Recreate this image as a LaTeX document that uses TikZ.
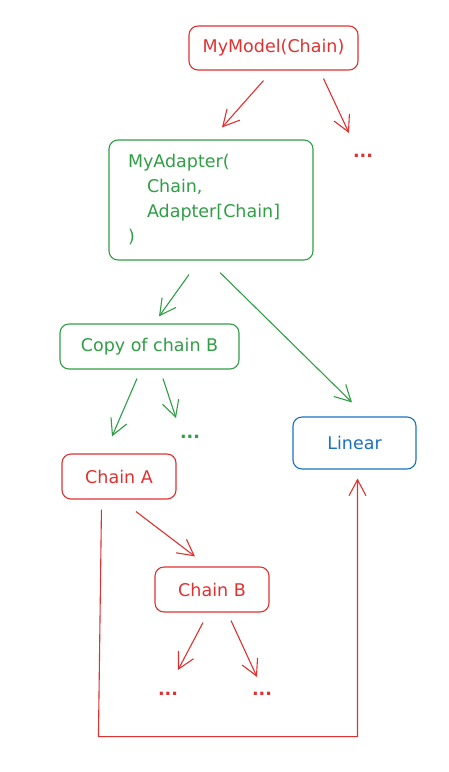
\documentclass[tikz,border=0pt]{standalone}
\usepackage{fontspec}
\setmainfont{DejaVu Sans}
\usetikzlibrary{arrows.meta,calc}
\definecolor{exred}{HTML}{E03131}
\definecolor{exgreen}{HTML}{2F9E44}
\definecolor{exblue}{HTML}{1971C2}
\tikzset{
  box/.style={draw, rounded corners=9pt, line width=1.1pt, inner sep=0pt, font=\fontsize{17.5}{25}\selectfont},
  redbox/.style={box, draw=exred, text=exred},
  greenbox/.style={box, draw=exgreen, text=exgreen},
  bluebox/.style={box, draw=exblue, text=exblue},
  dots/.style={inner sep=0pt, font=\fontsize{17.5}{21}\selectfont\bfseries},
  conn/.style={line width=1.1pt, -{Straight Barb[length=16pt,width=17pt,line width=1.1pt]}},
  redconn/.style={conn, draw=exred},
  greenconn/.style={conn, draw=exgreen},
}
\begin{document}
\begin{tikzpicture}[x=1pt,y=-1pt]
\useasboundingbox (0,0) rectangle (449,772);
% nodes
\node[redbox, minimum width=169pt, minimum height=44pt] (mm) at (273.5,48) {MyModel(Chain)};
\node[dots, text=exred] (d1) at (363,156) {...};
\node[greenbox, minimum width=204pt, minimum height=120pt, align=left, text width=166pt] (ad) at (211,200)
  {MyAdapter(\\\hspace*{19pt}Chain,\\\hspace*{19pt}Adapter[Chain]\\)};
\node[greenbox, minimum width=179pt, minimum height=45pt] (cp) at (149.5,346.5) {Copy of chain B};
\node[dots, text=exgreen] (d2) at (190,437) {...};
\node[bluebox, minimum width=123pt, minimum height=52pt] (lin) at (354.5,443) {Linear};
\node[redbox, minimum width=114pt, minimum height=45pt] (ca) at (119,476.5) {Chain A};
\node[redbox, minimum width=114pt, minimum height=45pt] (cb) at (212,589.5) {Chain B};
\node[dots, text=exred] (d3) at (168,694) {...};
\node[dots, text=exred] (d4) at (262,694) {...};
% connectors
\draw[redconn] ($(mm.south)+(-10,10)$) -- ($(ad.north)+(11,-12)$);
\draw[redconn] ($(mm.south)+(50,8)$) -- ($(d1)+(-14,-23)$);
\draw[greenconn] ($(ad.south)+(-22,14)$) -- ($(cp.north)+(9.5,-7)$);
\draw[greenconn] ($(ad.south)+(9,12)$) -- ($(lin.north)+(-2.5,-14)$);
\draw[greenconn] ($(cp.south)+(-12.5,9)$) -- ($(ca.north)+(-7,-17)$);
\draw[greenconn] ($(cp.south)+(13.5,9)$) -- ($(d2)+(-14,-19)$);
\draw[redconn] ($(ca.south)+(17,12)$) -- ($(cb.north)+(-17,-10)$);
\draw[redconn] ($(cb.south)+(-9,10)$) -- ($(d3)+(10,-24)$);
\draw[redconn] ($(cb.south)+(19,8)$) -- ($(d4)+(-5,-17)$);
\draw[redconn] ($(ca.south west)+(40,10)$) -- ++(-3,227) -| ($(lin.south)+(3,9)$);
\end{tikzpicture}
\end{document}
